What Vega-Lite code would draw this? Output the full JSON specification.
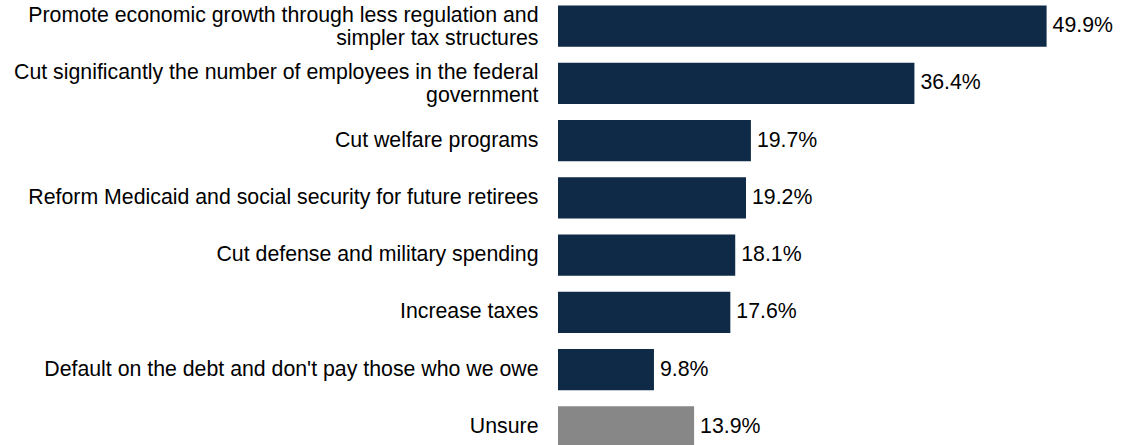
{
  "$schema": "https://vega.github.io/schema/vega-lite/v6.json",
  "width": 564,
  "height": 453,
  "autosize": "none",
  "padding": {"left": 558, "top": 0, "right": 0, "bottom": 0},
  "background": "white",
  "config": {"view": {"stroke": null}, "font": "Liberation Sans"},
  "data": {
    "values": [
      {"item": "Promote economic growth through less regulation and|simpler tax structures", "share": 0.499, "group": "main"},
      {"item": "Cut significantly the number of employees in the federal|government", "share": 0.364, "group": "main"},
      {"item": "Cut welfare programs", "share": 0.197, "group": "main"},
      {"item": "Reform Medicaid and social security for future retirees", "share": 0.192, "group": "main"},
      {"item": "Cut defense and military spending", "share": 0.181, "group": "main"},
      {"item": "Increase taxes", "share": 0.176, "group": "main"},
      {"item": "Default on the debt and don't pay those who we owe", "share": 0.098, "group": "main"},
      {"item": "Unsure", "share": 0.139, "group": "unsure"}
    ]
  },
  "encoding": {
    "y": {
      "field": "item",
      "type": "nominal",
      "sort": null,
      "scale": {"paddingInner": 0.283, "paddingOuter": 0.098},
      "axis": {
        "title": null,
        "domain": false,
        "ticks": false,
        "tickSize": 0,
        "labelPadding": 20,
        "labelFontSize": 21.3,
        "labelColor": "#000000",
        "labelLimit": 700,
        "labelLineHeight": 23,
        "labelOffset": {"condition": {"test": "indexof(datum.value, '|') >= 0", "value": -10.5}, "value": 0},
        "labelExpr": "split(datum.value, '|')"
      }
    }
  },
  "layer": [
    {
      "mark": {"type": "bar"},
      "encoding": {
        "x": {"field": "share", "type": "quantitative", "scale": {"domain": [0, 0.576], "nice": false, "zero": true}, "axis": null},
        "color": {"field": "group", "type": "nominal", "scale": {"domain": ["main", "unsure"], "range": ["#0e2a46", "#878787"]}, "legend": null}
      }
    },
    {
      "mark": {"type": "text", "align": "left", "baseline": "middle", "dx": 6, "fontSize": 21.3, "color": "#000000"},
      "encoding": {
        "x": {"field": "share", "type": "quantitative"},
        "text": {"field": "share", "type": "quantitative", "format": ".1%"}
      }
    }
  ]
}
